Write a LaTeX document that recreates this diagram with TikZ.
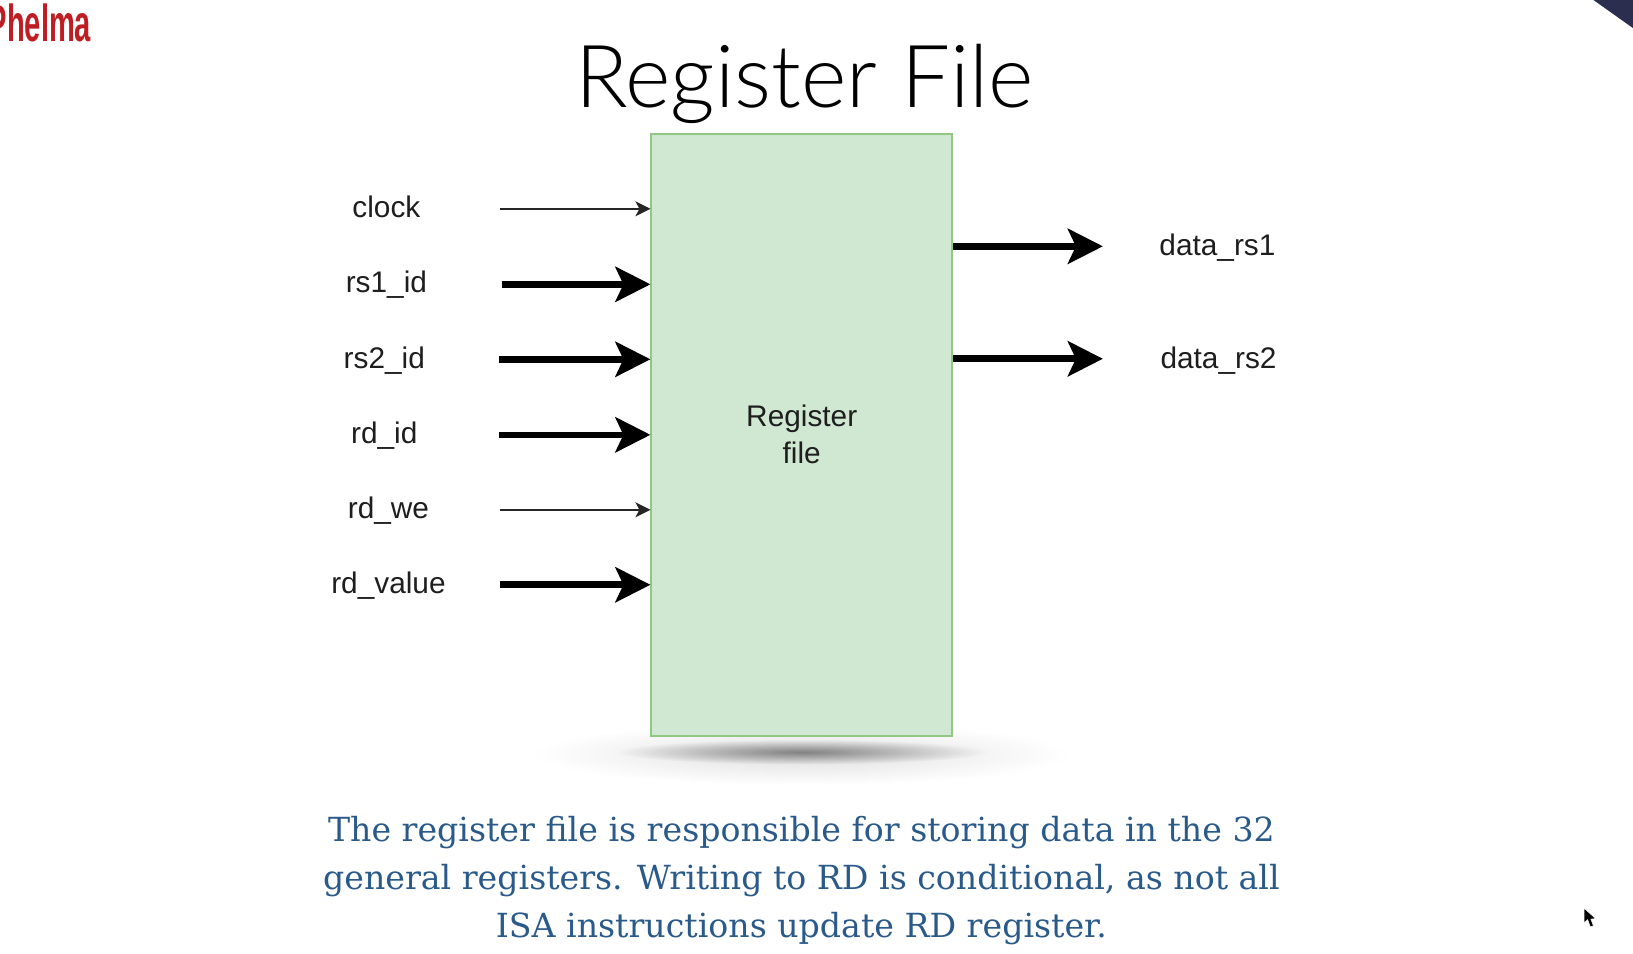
\documentclass[tikz,border=0pt]{standalone}
\usepackage{fontspec}
\usetikzlibrary{arrows.meta,fadings,calc}
\setmainfont{Liberation Sans}
\newfontfamily\titlefont{Lato Light}
\newfontfamily\bodyfont{DejaVu Serif}
\definecolor{boxfill}{HTML}{D0E8D2}
\definecolor{boxline}{HTML}{8FC783}
\definecolor{bodyblue}{HTML}{2A5A8A}
\definecolor{phred}{HTML}{BE1E23}
\definecolor{cornernavy}{HTML}{2B2E4E}
\definecolor{labelink}{HTML}{1E1E1E}
\tikzfading[name=softfade, inner color=transparent!0, outer color=transparent!100]
\tikzset{
  x=1.0415pt,y=-1.0415pt,
  lab/.style={font=\fontsize{29.8}{34}\selectfont,text=labelink,inner sep=0pt,anchor=center},
  thinarrow/.style={draw=black!85,line width=1.7pt,-{Stealth[length=15pt,width=15pt,inset=4pt]}},
  thickarrow/.style={draw=black,line width=6.6pt,-{Stealth[length=35pt,width=35pt,inset=8pt]}},
}
\begin{document}
\begin{tikzpicture}
\useasboundingbox (0,0) rectangle (1568,916);
\clip (0,0) rectangle (1568,916);
% corner and logo
\fill[cornernavy] (1530,0) -- (1568,27) -- (1568,0) -- cycle;
\node[inner sep=0pt,text=phred,font=\fontsize{52}{60}\selectfont\bfseries,xscale=0.56,anchor=west] (logo) at (-12,22) {Phelma};
% title
\node[inner sep=0pt,font=\titlefont\fontsize{87}{100}\selectfont,text=black] (title) at (772.5,81) {Register File};
% shadow
\fill[black,opacity=.13,path fading=softfade] (770,724) ellipse [x radius=258,y radius=30];
\fill[black,opacity=.42,path fading=softfade] (770,722) ellipse [x radius=178,y radius=12];
% box
\node[draw=boxline,fill=boxfill,line width=2pt,minimum width=300.6pt,minimum height=602pt,inner sep=0pt,
      align=center,font=\fontsize{29.8}{37}\selectfont,text=labelink] (box) at (769.8,417.7) {\raisebox{2pt}{Register}\\\raisebox{2pt}{file}};
% labels
\node[lab] (clock) at (371,199) {clock};
\node[lab] (rsone) at (371,273.5) {rs1\_id};
\node[lab] (rstwo) at (369,346.5) {rs2\_id};
\node[lab] (rdid) at (369,418.5) {rd\_id};
\node[lab] (rdwe) at (373,490.5) {rd\_we};
\node[lab] (rdvalue) at (373,562.5) {rd\_value};
\node[lab] (dataone) at (1169,237.5) {data\_rs1};
\node[lab] (datatwo) at (1170,346.5) {data\_rs2};
% connector ends
\coordinate (cclock) at (480,200.5);
\coordinate (crsone) at (482,273);
\coordinate (crstwo) at (479,345);
\coordinate (crdid) at (479,417.5);
\coordinate (crdwe) at (480,489.5);
\coordinate (crdvalue) at (480,561.5);
\coordinate (cdataone) at (1059,236.5);
\coordinate (cdatatwo) at (1059,344.5);
\draw[thinarrow] (cclock) -- (box.west |- cclock);
\draw[thickarrow] (crsone) -- (box.west |- crsone);
\draw[thickarrow] (crstwo) -- (box.west |- crstwo);
\draw[thickarrow] (crdid) -- (box.west |- crdid);
\draw[thinarrow] (crdwe) -- (box.west |- crdwe);
\draw[thickarrow] (crdvalue) -- (box.west |- crdvalue);
\draw[thickarrow] (box.east |- cdataone) -- (cdataone);
\draw[thickarrow] (box.east |- cdatatwo) -- (cdatatwo);
% caption
\node[inner sep=0pt,align=center,text=bodyblue,font=\bodyfont\fontsize{33.2}{48.4}\selectfont] (caption) at (769.5,845.5) {The register file is responsible for storing data in the 32\\general registers. Writing to RD is conditional, as not all\\ISA instructions update RD register.};
% mouse cursor
\fill[black,draw=white,line width=.5pt] (1521,872) -- (1521,886) -- (1524.5,883) -- (1527,890) -- (1530,889) -- (1527.5,882.5) -- (1532,882) -- cycle;
\end{tikzpicture}
\end{document}
